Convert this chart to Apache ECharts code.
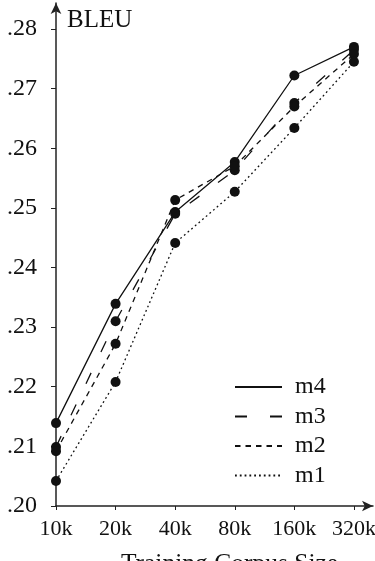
<!DOCTYPE html>
<html>
<head>
<meta charset="utf-8">
<script src="https://cdn.jsdelivr.net/npm/echarts@6/dist/echarts.min.js"></script>
<style>html,body{margin:0;padding:0;background:#fff}#c{width:375px;height:561px}</style>
</head>
<body>
<div id="c"></div>
<script>
const categories = ['10k', '20k', '40k', '80k', '160k', '320k'];
const m4 = [0.2139, 0.2339, 0.2493, 0.2577, 0.2722, 0.2770];
const m3 = [0.2099, 0.2310, 0.2490, 0.2563, 0.2676, 0.2765];
const m2 = [0.2092, 0.2272, 0.2513, 0.2570, 0.2670, 0.2758];
const m1 = [0.2042, 0.2208, 0.2441, 0.2527, 0.2634, 0.2745];
const yTicks = [0.20, 0.21, 0.22, 0.23, 0.24, 0.25, 0.26, 0.27, 0.28];
const xTicks = [0, 1, 2, 3, 4, 5];

const font = 'Liberation Serif';
const ink = '#111';
function mk(name, vals, dash) {
  return {
    name: name, type: 'line',
    data: categories.map((c, i) => [i, vals[i]]),
    symbol: 'circle', symbolSize: 10,
    itemStyle: { color: ink },
    lineStyle: { color: ink, width: 1.3, type: dash },
    animation: false
  };
}
const chart = echarts.init(document.getElementById('c'), null, { renderer: 'canvas' });
chart.setOption({
  backgroundColor: '#fff',
  animation: false,
  title: { text: 'BLEU', left: 67, top: 8, padding: 0, textStyle: { fontFamily: font, fontSize: 25, fontWeight: 'normal', color: ink } },
  grid: { left: 56, right: 2, top: 3, bottom: 55, containLabel: false, outerBoundsMode: 'none' },
  legend: {
    orient: 'vertical', left: 234, top: 375, padding: 0,
    itemWidth: 47, itemHeight: 14, itemGap: 5.5,
    itemStyle: { opacity: 0 },
    textStyle: { fontFamily: font, fontSize: 24, lineHeight: 24, color: ink, padding: [0, 0, 0, 8] },
    data: ['m4', 'm3', 'm2', 'm1']
  },
  xAxis: {
    type: 'value', min: 0, max: 5.32,
    name: 'Training Corpus Size', nameLocation: 'middle', nameGap: 45,
    nameTextStyle: { fontFamily: font, fontSize: 25.5, color: ink, padding: [0, 0, 0, 30] },
    axisLine: { show: true, lineStyle: { color: '#222', width: 1.5 }, symbol: ['none', 'arrow'], symbolSize: [8, 11] },
    axisTick: { show: true, customValues: xTicks, length: 4, lineStyle: { color: '#222' } },
    axisLabel: { customValues: xTicks, margin: 12, fontFamily: font, fontSize: 22, color: ink,
      formatter: v => categories[Math.round(v)] },
    splitLine: { show: false }
  },
  yAxis: {
    type: 'value', min: 0.20, max: 0.28436,
    axisLine: { show: true, lineStyle: { color: '#222', width: 1.5 }, symbol: ['none', 'arrow'], symbolSize: [8, 11] },
    axisTick: { show: true, customValues: yTicks, length: 5, lineStyle: { color: '#222' } },
    axisLabel: { customValues: yTicks, margin: 19, fontFamily: font, fontSize: 24, color: ink,
      formatter: v => v.toFixed(2).replace(/^0/, '') },
    splitLine: { show: false }
  },
  series: [
    mk('m4', m4, 'solid'),
    mk('m3', m3, [12, 23]),
    mk('m2', m2, [5.5, 5]),
    mk('m1', m1, [1.8, 3])
  ]
});
</script>
</body>
</html>
